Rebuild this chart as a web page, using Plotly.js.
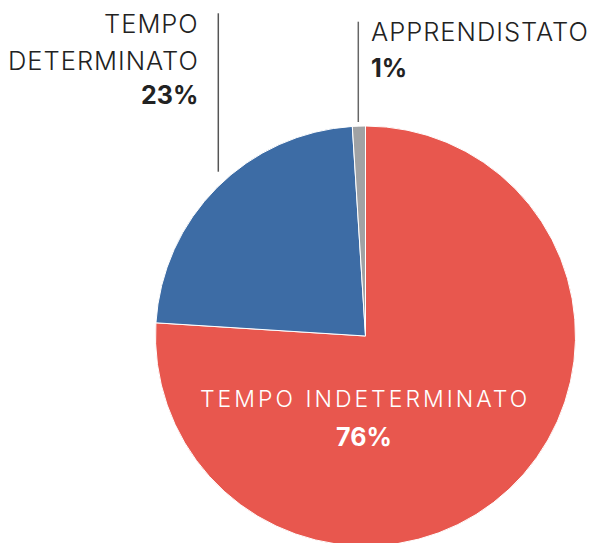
<!DOCTYPE html>
<html>
<head>
<meta charset="utf-8">
<script src="https://cdn.plot.ly/plotly-3.0.1.min.js"></script>
<style>html,body{margin:0;padding:0;overflow:hidden;background:#fff}</style>
</head>
<body>
<div id="chart" style="width:595px;height:549px"></div>
<script>
const categories = ["TEMPO INDETERMINATO", "TEMPO DETERMINATO", "APPRENDISTATO"];
const shares = [76, 23, 1];
const percentLabels = ["76%", "23%", "1%"];
const colors = ["#E8574E", "#3D6CA5", "#A0A2A4"];

const W = 595, H = 549;
const px = x => x / W;
const py = y => (H - y) / H;
const FONT = "Inter, 'Noto Sans', sans-serif";

function sp(text, ls) {
  return "<span style='letter-spacing:" + ls + "px'>" + text + "</span>";
}

function ann(text, x, y, anchor, size, weight, color) {
  return {
    text: text, x: px(x), y: py(y), xref: "paper", yref: "paper",
    xanchor: anchor, yanchor: "middle", showarrow: false,
    font: {family: FONT, size: size, weight: weight, color: color}
  };
}

const data = [{
  type: "pie",
  labels: categories,
  values: shares,
  sort: false,
  direction: "clockwise",
  rotation: 0,
  textinfo: "none",
  hoverinfo: "label+percent",
  marker: {colors: colors, line: {color: "#ffffff", width: 1}},
  domain: {x: [155.5 / W, 575.5 / W], y: [(H - 546) / H, (H - 126) / H]}
}];

const annotations = [
  ann(sp("TEMPO", 1.0), 201, 23.5, "right", 25.5, 300, "#222"),
  ann(sp("DETERMINATO", 1.0), 201, 60, "right", 25.5, 300, "#222"),
  ann(percentLabels[1], 200, 95, "right", 25, 700, "#222"),
  ann(sp(categories[2], 1.0), 369, 31.3, "left", 25.5, 300, "#222"),
  ann(percentLabels[2], 369, 67.8, "left", 25, 700, "#222"),
  ann(sp(categories[0], 3), 365, 399, "center", 23, 300, "#ffffff"),
  ann(percentLabels[0], 364, 437, "center", 25, 700, "#ffffff")
];

const shapes = [
  {type: "line", xref: "paper", yref: "paper", x0: px(218.3), x1: px(218.3), y0: py(13.3), y1: py(171.7), line: {color: "#555", width: 1.5}},
  {type: "line", xref: "paper", yref: "paper", x0: px(358.3), x1: px(358.3), y0: py(21.7), y1: py(122), line: {color: "#666", width: 1.5}}
];

Plotly.newPlot("chart", data, {
  width: W, height: H,
  margin: {l: 0, r: 0, t: 0, b: 0},
  showlegend: false,
  paper_bgcolor: "#ffffff",
  annotations: annotations,
  shapes: shapes
}, {displayModeBar: false, staticPlot: true});
</script>
</body>
</html>
